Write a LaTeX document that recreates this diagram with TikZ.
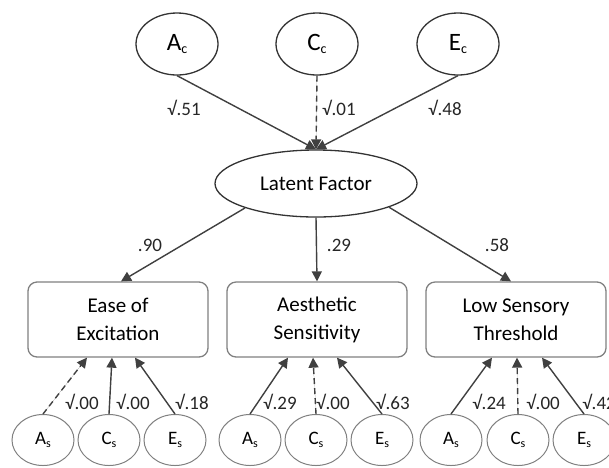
\documentclass[tikz,border=0pt]{standalone}
\usepackage{fontspec}
\setmainfont{Carlito}
\usetikzlibrary{shapes.geometric,arrows.meta}
\newcommand\topsub[1]{\raisebox{-3pt}{\fontsize{14}{14}\selectfont #1}}
\newcommand\botsub[1]{\raisebox{-3pt}{\fontsize{12}{12}\selectfont #1}}
\definecolor{linec}{gray}{0.25}
\definecolor{boxc}{gray}{0.5}
\definecolor{circc}{gray}{0.5}
\tikzset{
  topell/.style={ellipse, draw=black!80, line width=1.3pt, minimum width=82pt, minimum height=62pt, inner sep=0pt, font=\fontsize{25}{25}\selectfont},
  lfell/.style={ellipse, draw=black!80, line width=1.3pt, minimum width=202pt, minimum height=67pt, inner sep=0pt, font=\fontsize{21}{21}\selectfont},
  scalebox/.style={rectangle, rounded corners=9pt, draw=boxc, line width=1.3pt, minimum width=180pt, minimum height=75pt, inner sep=0pt, align=center, font=\fontsize{21}{28}\selectfont},
  botell/.style={ellipse, draw=circc, line width=1pt, minimum width=62pt, minimum height=51pt, inner sep=0pt, font=\fontsize{19}{19}\selectfont},
  arr/.style={draw=linec, line width=1.4pt, -{Triangle[length=10pt,width=10pt]}, fill=linec},
  dsh/.style={dashed, dash pattern=on 6pt off 4pt},
  lab/.style={inner sep=0pt, text=black!85, font=\fontsize{19}{19}\selectfont}
}
\begin{document}
\begin{tikzpicture}[x=1pt,y=-1pt]
\useasboundingbox (0,0) rectangle (609,467);
% top
\node[topell] (Ac) at (177,44) {A\topsub{c}};
\node[topell] (Cc) at (317,44) {C\topsub{c}};
\node[topell] (Ec) at (458,44) {E\topsub{c}};
\node[lfell] (LF) at (316,183.5) {Latent Factor};
% boxes
\node[scalebox] (EE) at (118,319.5) {Ease of\\Excitation};
\node[scalebox] (AS) at (317,319.5) {Aesthetic\\Sensitivity};
\node[scalebox] (LS) at (516,319.5) {Low Sensory\\Threshold};
% bottom circles
\node[botell] (EA) at (43,440) {A\botsub{s}};
\node[botell] (EC) at (109,440) {C\botsub{s}};
\node[botell] (EEs) at (175,440) {E\botsub{s}};
\node[botell] (AA) at (250,440) {A\botsub{s}};
\node[botell] (AC) at (316,440) {C\botsub{s}};
\node[botell] (AE) at (382,440) {E\botsub{s}};
\node[botell] (LA) at (451,440) {A\botsub{s}};
\node[botell] (LC) at (518,440) {C\botsub{s}};
\node[botell] (LE) at (584,440) {E\botsub{s}};
% top arrows
\draw[arr] (Ac.south) -- (LF.north);
\draw[arr] (Ec.south) -- (LF.north);
\draw[arr,dsh] (Cc.south) -- (LF.north);
% middle arrows
\draw[arr] (LF.199) -- ([xshift=3pt]EE.north);
\draw[arr] (LF.south) -- (AS.north);
\draw[arr] (LF.342) -- ([xshift=-5pt]LS.north);
% bottom arrows
\draw[arr,dsh] (EA.north) -- ([xshift=-31pt]EE.south);
\draw[arr] (EC.north) -- ([xshift=-6pt]EE.south);
\draw[arr] (EEs.north) -- ([xshift=17pt]EE.south);
\draw[arr] (AA.north) -- ([xshift=-29pt]AS.south);
\draw[arr,dsh] (AC.north) -- ([xshift=-4pt]AS.south);
\draw[arr] (AE.north) -- ([xshift=20pt]AS.south);
\draw[arr] (LA.north) -- ([xshift=-24pt]LS.south);
\draw[arr,dsh] (LC.north) -- ([xshift=1pt]LS.south);
\draw[arr] (LE.north) -- ([xshift=26pt]LS.south);
% labels
\node[lab] (l1) at (184,108) {√.51};
\node[lab] (l2) at (339,108) {√.01};
\node[lab] (l3) at (445,108) {√.48};
\node[lab] (m1) at (150,245) {.90};
\node[lab] (m2) at (339,245) {.29};
\node[lab] (m3) at (497,245) {.58};
\node[lab] (b1) at (82,402) {√.00};
\node[lab] (b2) at (133,402) {√.00};
\node[lab] (b3) at (192,402) {√.18};
\node[lab] (b4) at (280,402) {√.29};
\node[lab] (b5) at (333,402) {√.00};
\node[lab] (b6) at (393,402) {√.63};
\node[lab] (b7) at (489,402) {√.24};
\node[lab] (b8) at (543,402) {√.00};
\node[lab] (b9) at (599,402) {√.42};
\end{tikzpicture}
\end{document}
